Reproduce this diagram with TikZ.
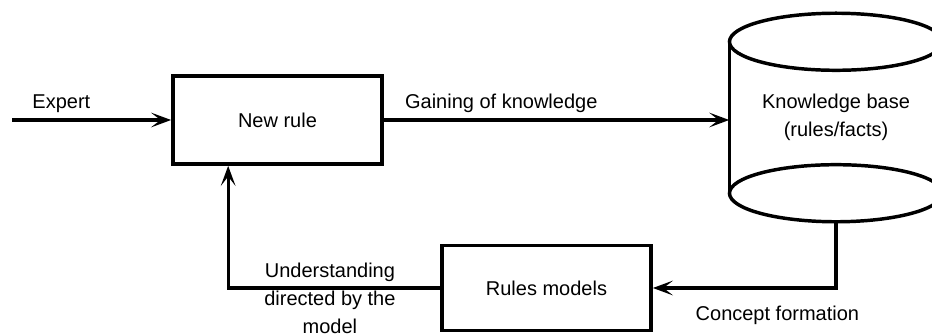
\documentclass[tikz,border=0pt]{standalone}
\usepackage{fontspec}
\setmainfont{Liberation Sans}
\usepackage{tikz}
\usetikzlibrary{arrows.meta}
\tikzset{rbox/.style={draw, line width=2.8pt, minimum width=156.75pt, align=center, inner sep=4pt}, kbbody/.style={minimum width=159.75pt, minimum height=156pt, inner sep=0pt, align=center}, cylline/.style={line width=2.6pt}, flow/.style={-{Stealth[length=15pt, width=11pt, inset=7pt]}, line width=2.5pt}, lbl/.style={inner sep=0pt, align=center}}
\begin{document}
\begin{tikzpicture}[x=0.75pt, y=-0.75pt, every node/.style={font=\fontsize{15}{21}\selectfont}]
\useasboundingbox (0,0) rectangle (932,334);
\node[rbox, minimum height=66pt] (newrule) at (277.5,120) {New rule};
\node[rbox, minimum height=63.75pt] (rmodels) at (546.5,288) {Rules models};
\node[kbbody] (kbase) at (836,117.5) {Knowledge base\\(rules/facts)};
% cylinder round the knowledge base
\draw[cylline] ([yshift=-21.4pt]kbase.north) ellipse [x radius=79.9pt, y radius=21.4pt];
\draw[cylline] ([yshift=21.4pt]kbase.south) ellipse [x radius=79.9pt, y radius=21.4pt];
\draw[cylline] ([yshift=-21.4pt]kbase.north west) -- ([yshift=21.4pt]kbase.south west);
\draw[cylline] ([yshift=-21.4pt]kbase.north east) -- ([yshift=21.4pt]kbase.south east);
\coordinate (expert) at (12,120);
\draw[flow] (expert) -- node[lbl, pos=0.31, above=4.5pt] {Expert} (newrule.west);
\draw[flow] (newrule.east) -- node[lbl, pos=0.34, above=4.5pt] {Gaining of knowledge} (newrule.east -| kbase.west);
\draw[flow] (kbase.south) |- node[lbl, pos=0.66, below=12pt] {Concept formation} (rmodels.east);
\draw[flow] (rmodels.west) -| node[lbl, pos=0.26, yshift=-8pt] {Understanding\\directed by the\\model} ([xshift=-37pt]newrule.south);
\end{tikzpicture}
\end{document}
